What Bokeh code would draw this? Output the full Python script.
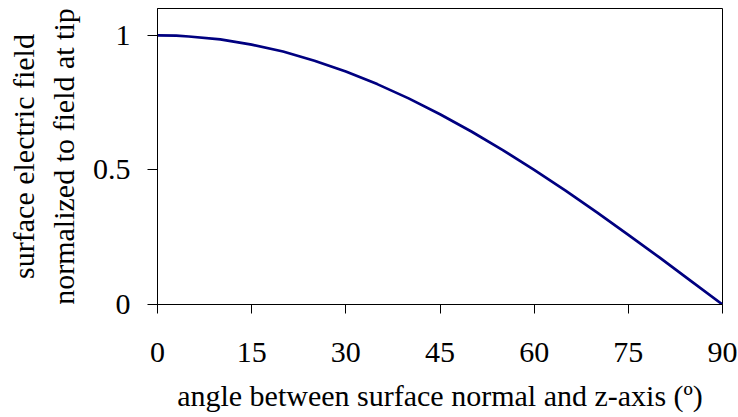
from bokeh.plotting import figure
from bokeh.models import Range1d, FixedTicker
from bokeh.embed import file_html
from bokeh.resources import INLINE

angle_deg = [0, 3, 5, 10, 15, 20, 25, 30, 35, 40, 45, 50, 55, 60, 65, 70, 75, 80, 85, 90]
field_norm = [1.0, 0.999, 0.996, 0.985, 0.966, 0.940, 0.906, 0.866, 0.819, 0.766,
              0.707, 0.643, 0.574, 0.500, 0.423, 0.342, 0.259, 0.174, 0.087, 0.0]
x_ticks = [0, 15, 30, 45, 60, 75, 90]
y_ticks = [0, 0.5, 1]
x_title = "angle between surface normal and z-axis (º)"
y_title_lines = ["surface electric field", "normalized to field at tip"]

FONT = "Liberation Serif"
FS = 30  # px

p = figure(width=738, height=417, output_backend="svg", toolbar_location=None,
           x_range=Range1d(0, 90), y_range=Range1d(0, 1.1),
           min_border_left=157, min_border_right=16, min_border_top=8, min_border_bottom=113)

p.line(angle_deg, field_norm, line_color="#000080", line_width=2.7)

p.xgrid.visible = False
p.ygrid.visible = False
p.outline_line_color = "black"
p.outline_line_width = 1
p.background_fill_color = "white"
p.border_fill_color = "white"

for ax in (p.xaxis[0], p.yaxis[0]):
    ax.major_tick_in = 0
    ax.minor_tick_line_color = None
    ax.axis_line_color = "black"
    ax.major_tick_line_color = "black"
    ax.major_label_text_font = FONT
    ax.major_label_text_font_size = f"{FS}px"
    ax.major_label_text_color = "black"
    ax.axis_label_text_font = FONT
    ax.axis_label_text_font_size = f"{FS}px"
    ax.axis_label_text_font_style = "normal"
    ax.axis_label_text_color = "black"

p.xaxis[0].ticker = FixedTicker(ticks=x_ticks)
p.yaxis[0].ticker = FixedTicker(ticks=y_ticks)
p.xaxis[0].major_tick_out = 9
p.yaxis[0].major_tick_out = 10
p.xaxis[0].major_label_standoff = 29
p.yaxis[0].major_label_standoff = 17
p.xaxis[0].axis_label = x_title
p.xaxis[0].axis_label_standoff = 14
p.yaxis[0].axis_label = "\n".join(y_title_lines)
p.yaxis[0].axis_label_standoff = 10

open("out.html", "w").write(file_html(p, INLINE))
